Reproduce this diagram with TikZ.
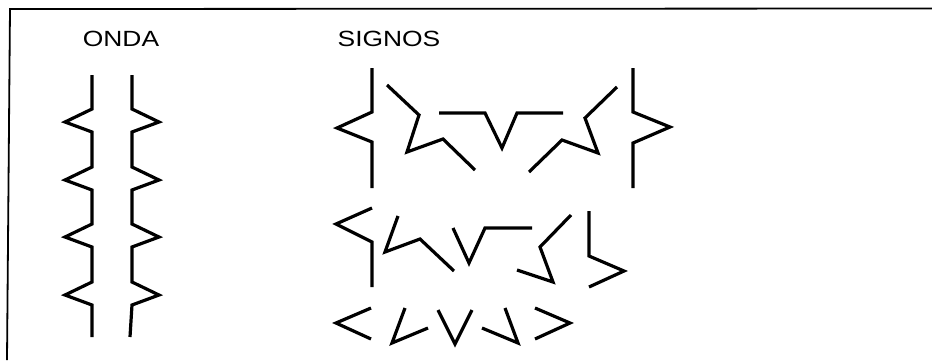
\documentclass[tikz,border=0pt]{standalone}
\usepackage{fontspec}
\setmainfont{Liberation Sans}
\usepackage{tikz}
\usetikzlibrary{positioning}

\tikzset{
  trazo/.style={line width=3.2pt},
  marco/.style={line width=1.8pt},
  rotulo/.style={font=\fontsize{22}{22}\selectfont, xscale=1.2, inner sep=0pt}
}

\begin{document}
\begin{tikzpicture}[x=1pt,y=-1pt]
        \useasboundingbox (0,0) rectangle (932,360);
        \draw[marco] (7,360) -- (10,9) -- (932,8.5);
        \node[rotulo] (onda) at (121,39) {ONDA};
        \node[rotulo] (signos) at (389,39) {SIGNOS};
        % onda: two zigzag lines
        \draw[trazo] (92,75) foreach \y in {109,167,224,282} { -- (92,\y) -- (65,\y+13) -- (92,\y+23) } -- (92,337);
        \draw[trazo] (132,75) foreach \y in {109,167,224,282} { -- (132,\y) -- (159,\y+13) -- (132,\y+23) } -- (130,337);
        % signos, first row
        \draw[trazo] (372,68) -- (372,112) -- (337,128) -- (372,142) -- (372,188);
        \draw[trazo] (387,85) -- (419,115) -- (407,152) -- (443,139) -- (475,170);
        \draw[trazo] (439,113) -- (485,113) -- (502,148) -- (517,113) -- (563,113);
        \draw[trazo] (617,87) -- (585,118) -- (598,153) -- (562,140) -- (529,172);
        \draw[trazo] (633,68) -- (633,112) -- (670,127) -- (633,143) -- (633,188);
        % second row
        \draw[trazo] (372,208) -- (336,224) -- (372,242) -- (372,287);
        \draw[trazo] (398,216) -- (385,252) -- (420,239) -- (454,271);
        \draw[trazo] (453,228) -- (469,263) -- (485,228) -- (532,228);
        \draw[trazo] (571,215) -- (540,247) -- (553,282) -- (517,270);
        \draw[trazo] (589,211) -- (589,256) -- (624,271) -- (589,287);
        % third row
        \draw[trazo] (371,308) -- (336,323) -- (371,339);
        \draw[trazo] (405,308) -- (392,343) -- (428,328);
        \draw[trazo] (438,310) -- (455,344) -- (472,310);
        \draw[trazo] (482,328) -- (518,343) -- (505,308);
        \draw[trazo] (535,308) -- (570,323) -- (535,339);
      \end{tikzpicture}
\end{document}
